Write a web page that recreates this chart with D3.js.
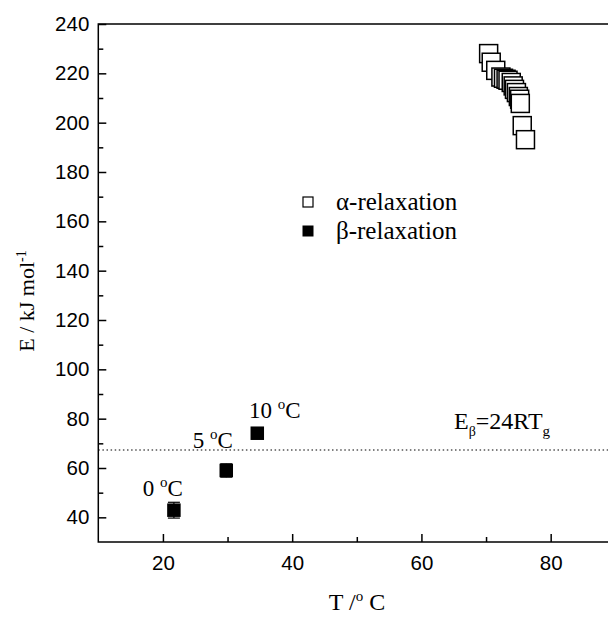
<!DOCTYPE html>
<html>
<head>
<meta charset="utf-8">
<script src="https://cdn.jsdelivr.net/npm/d3@7"></script>
<style>
  body { margin: 0; background: #fff; }
  svg { display: block; }
</style>
</head>
<body>
<div id="chart"></div>
<script>
// alpha-relaxation (T in °C, E in kJ/mol)
const alphaT = [70.4, 70.8, 71.5, 72.3, 72.7, 73.1, 73.4, 73.9, 74.2, 74.4, 74.7, 75.0, 75.2, 75.3, 75.6, 76.1];
const alphaE = [228, 224.5, 221.2, 218.5, 218, 217.6, 217.2, 216.3, 214.9, 213.5, 212.2, 210.6, 209.5, 207.8, 198.8, 193.1];
// beta-relaxation
const betaT = [21.7, 29.8, 34.6];
const betaE = [42.9, 59.0, 74.1];
const betaErr = [3.2, 2.7, 1.0];
const betaLabels = ['0', '5', '10'];
const xTicks = [20, 40, 60, 80];
const xMinor = [30, 50, 70, 90];
const yTicks = [40, 60, 80, 100, 120, 140, 160, 180, 200, 220, 240];
const yMinor = [50, 70, 90, 110, 130, 150, 170, 190, 210, 230];
const refLine = 67.3;

const config = {
  width: 608,
  height: 617,
  left: 98.3,
  right: 615.3,
  top: 24,
  bottom: 542
};

const svg = d3.select('#chart').append('svg')
  .attr('width', config.width)
  .attr('height', config.height);

const x = d3.scaleLinear().domain([10, 90]).range([config.left, config.right]);
const y = d3.scaleLinear().domain([30, 240]).range([config.bottom, config.top]);

const sans = '"Liberation Sans", Arial, sans-serif';
const serif = '"Liberation Serif", "Times New Roman", serif';

// frame
svg.append('rect')
  .attr('x', config.left)
  .attr('y', config.top)
  .attr('width', config.right - config.left)
  .attr('height', config.bottom - config.top)
  .style('fill', 'none')
  .style('stroke', '#000')
  .style('stroke-width', 1.5);

const styleAxis = g => {
  g.select('.domain').remove();
  g.selectAll('line').style('stroke', '#000').style('stroke-width', 1.5);
  g.selectAll('text').style('font-family', sans).style('font-size', '20.5px').style('fill', '#000');
};

svg.append('g')
  .attr('transform', 'translate(0,' + config.bottom + ')')
  .call(d3.axisBottom(x).tickValues(xTicks).tickSize(-8).tickPadding(13))
  .call(styleAxis);
svg.append('g')
  .attr('transform', 'translate(0,' + config.bottom + ')')
  .call(d3.axisBottom(x).tickValues(xMinor).tickSize(-5).tickFormat(''))
  .call(styleAxis);
svg.append('g')
  .attr('transform', 'translate(' + config.left + ',0)')
  .call(d3.axisLeft(y).tickValues(yTicks).tickSize(-8).tickPadding(9))
  .call(styleAxis);
svg.append('g')
  .attr('transform', 'translate(' + config.left + ',0)')
  .call(d3.axisLeft(y).tickValues(yMinor).tickSize(-5).tickFormat(''))
  .call(styleAxis);

// axis titles
const xt = svg.append('text')
  .attr('x', 357).attr('y', 610)
  .attr('text-anchor', 'middle')
  .style('font-family', serif).style('font-size', '24px');
xt.append('tspan').text('T /');
xt.append('tspan').attr('dy', -9).style('font-size', '15px').text('o');
xt.append('tspan').attr('dy', 9).text(' C');

const yt = svg.append('text')
  .attr('transform', 'translate(34,301) rotate(-90)')
  .attr('text-anchor', 'middle')
  .style('font-family', serif).style('font-size', '22px');
yt.append('tspan').text('E / kJ mol');
yt.append('tspan').attr('dy', -8).style('font-size', '14px').text('-1');

// reference line E_beta = 24 R Tg
svg.append('line')
  .attr('x1', config.left).attr('x2', config.right)
  .attr('y1', y(refLine)).attr('y2', y(refLine))
  .style('stroke', '#000').style('stroke-width', 1.2)
  .style('stroke-dasharray', '1.5,2.6');

const rt = svg.append('text')
  .attr('x', 454).attr('y', 429)
  .style('font-family', serif).style('font-size', '24px');
rt.append('tspan').text('E');
rt.append('tspan').attr('dy', 7).style('font-size', '14px').text('β');
rt.append('tspan').attr('dy', -7).text('=24RT');
rt.append('tspan').attr('dy', 7).style('font-size', '15px').text('g');

// alpha points
const alpha = alphaT.map((t, i) => ({ t, e: alphaE[i] }));
const aSize = 18;
svg.append('g').selectAll('rect')
  .data(alpha)
  .join('rect')
  .attr('x', d => x(d.t) - aSize / 2)
  .attr('y', d => y(d.e) - aSize / 2)
  .attr('width', aSize)
  .attr('height', aSize)
  .style('fill', '#fff')
  .style('stroke', '#000')
  .style('stroke-width', 1.5);

// beta points with error bars
const beta = betaT.map((t, i) => ({ t, e: betaE[i], err: betaErr[i], label: betaLabels[i] }));
const bSize = 13.5;
const bg = svg.append('g');
bg.selectAll('line.err')
  .data(beta)
  .join('line')
  .attr('class', 'err')
  .attr('x1', d => x(d.t)).attr('x2', d => x(d.t))
  .attr('y1', d => y(d.e - d.err)).attr('y2', d => y(d.e + d.err))
  .style('stroke', '#000').style('stroke-width', 1.2);
['lo', 'hi'].forEach(k => {
  bg.selectAll('line.cap' + k)
    .data(beta)
    .join('line')
    .attr('class', 'cap' + k)
    .attr('x1', d => x(d.t) - 6).attr('x2', d => x(d.t) + 6)
    .attr('y1', d => y(k === 'lo' ? d.e - d.err : d.e + d.err))
    .attr('y2', d => y(k === 'lo' ? d.e - d.err : d.e + d.err))
    .style('stroke', '#000').style('stroke-width', 1.2);
});
bg.selectAll('rect')
  .data(beta)
  .join('rect')
  .attr('x', d => x(d.t) - bSize / 2)
  .attr('y', d => y(d.e) - bSize / 2)
  .attr('width', bSize)
  .attr('height', bSize)
  .style('fill', '#000');

// temperature labels above beta points
const labelPos = [[142.7, 496], [192.7, 448], [249, 418]];
beta.forEach((d, i) => {
  const t = svg.append('text')
    .attr('x', labelPos[i][0]).attr('y', labelPos[i][1])
    .style('font-family', serif).style('font-size', '23px');
  t.append('tspan').text(d.label + ' ');
  t.append('tspan').attr('dy', -9).style('font-size', '15px').text('o');
  t.append('tspan').attr('dy', 9).text('C');
});

// legend
const legend = svg.append('g');
legend.append('rect')
  .attr('x', 303).attr('y', 197).attr('width', 10).attr('height', 10)
  .style('fill', '#fff').style('stroke', '#000').style('stroke-width', 1.2);
legend.append('rect')
  .attr('x', 302.5).attr('y', 225.5).attr('width', 11).attr('height', 11)
  .style('fill', '#000');
legend.append('text')
  .attr('x', 336).attr('y', 210)
  .style('font-family', serif).style('font-size', '25px')
  .text('α-relaxation');
legend.append('text')
  .attr('x', 336).attr('y', 239)
  .style('font-family', serif).style('font-size', '25px')
  .text('β-relaxation');
</script>
</body>
</html>
